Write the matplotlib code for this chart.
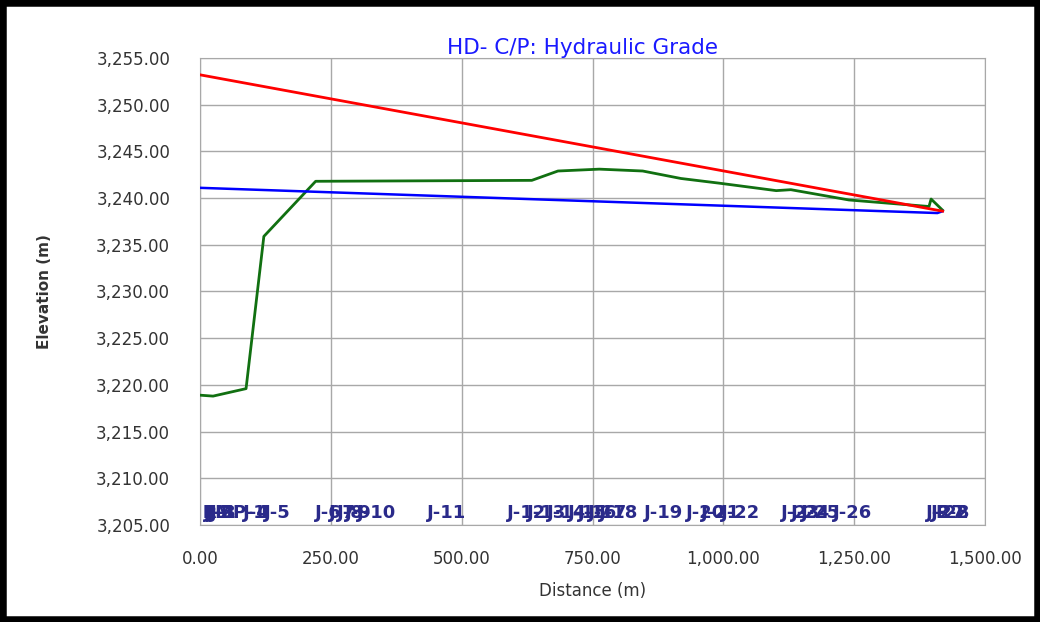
import matplotlib
matplotlib.use("Agg")
import matplotlib.pyplot as plt
from matplotlib.patches import Rectangle
from matplotlib.ticker import FuncFormatter, MultipleLocator

plt.rcParams['font.family'] = ['DejaVu Sans']

# Hydraulic grade lines
red_dist = [0, 1419]
red_elev = [3253.2, 3238.6]

blue_dist = [0, 1409, 1419]
blue_elev = [3241.1, 3238.4, 3238.6]

# Ground profile
green_dist = [0, 25, 88, 122, 221, 634, 684, 763, 846, 919, 992, 1101, 1129,
              1240, 1393, 1397, 1419]
green_elev = [3218.9, 3218.8, 3219.6, 3235.9, 3241.8, 3241.9, 3242.9, 3243.1,
              3242.9, 3242.1, 3241.6, 3240.8, 3240.9, 3239.8, 3239.1, 3239.9,
              3238.7]

# Node labels
node_names = ["PMP-1", "R-1", "J-1", "J-2", "J-3", "J-4", "J-5", "J-6", "J-7",
              "J-8", "J-9", "J-10", "J-11", "J-12", "J-13", "J-14", "J-15",
              "J-16", "J-17", "J-18", "J-19", "J-20", "J-21", "J-22", "J-23",
              "J-24", "J-25", "J-26", "J-27", "J-28", "R-2"]
node_dist = [4, 4, 8, 14, 19, 82, 122, 219, 246, 262, 277, 300, 433, 586, 624,
             662, 704, 723, 742, 763, 849, 929, 958, 996, 1111, 1130, 1149,
             1210, 1387, 1397, 1406]
label_elev = 3206.3

fig = plt.figure(figsize=(10.4, 6.22), dpi=100)
ax = fig.add_axes([200/1040, 1 - 525/622, 785/1040, 467/622])

ax.plot(green_dist, green_elev, color='#117011', lw=2.0, zorder=3)
ax.plot(blue_dist, blue_elev, color='#0000ff', lw=1.8, zorder=4)
ax.plot(red_dist, red_elev, color='#ff0000', lw=2.0, zorder=5)

for name, d in zip(node_names, node_dist):
    ax.text(d, label_elev, name, color='#2a2a8a', fontsize=13,
            fontweight='bold', ha='left', va='center', zorder=6)

ax.set_xlim(0, 1500)
ax.set_ylim(3205, 3255)
ax.xaxis.set_major_locator(MultipleLocator(250))
ax.yaxis.set_major_locator(MultipleLocator(5))
fmt = FuncFormatter(lambda v, p: f"{v:,.2f}")
ax.xaxis.set_major_formatter(fmt)
ax.yaxis.set_major_formatter(fmt)
ax.tick_params(length=0, labelsize=12, labelcolor='#333333')
ax.tick_params(axis='y', pad=21.5)
ax.tick_params(axis='x', pad=18)
ax.grid(True, color='#a8a8a8', lw=1.0)
ax.set_axisbelow(True)
for s in ax.spines.values():
    s.set_color('#a8a8a8')

ax.set_title("HD- C/P: Hydraulic Grade", color='#1a1aff', fontsize=15.5,
             pad=3, x=0.487)
ax.set_xlabel("Distance (m)", fontsize=12, color='#333333', labelpad=10)
ax.set_ylabel("Elevation (m)", fontsize=11, fontweight='bold',
              color='#333333', labelpad=32)

fig.patches.append(Rectangle((0, 0), 1, 1, transform=fig.transFigure,
                             fill=False, edgecolor='black', lw=9))

fig.savefig("out.png", dpi=100)
